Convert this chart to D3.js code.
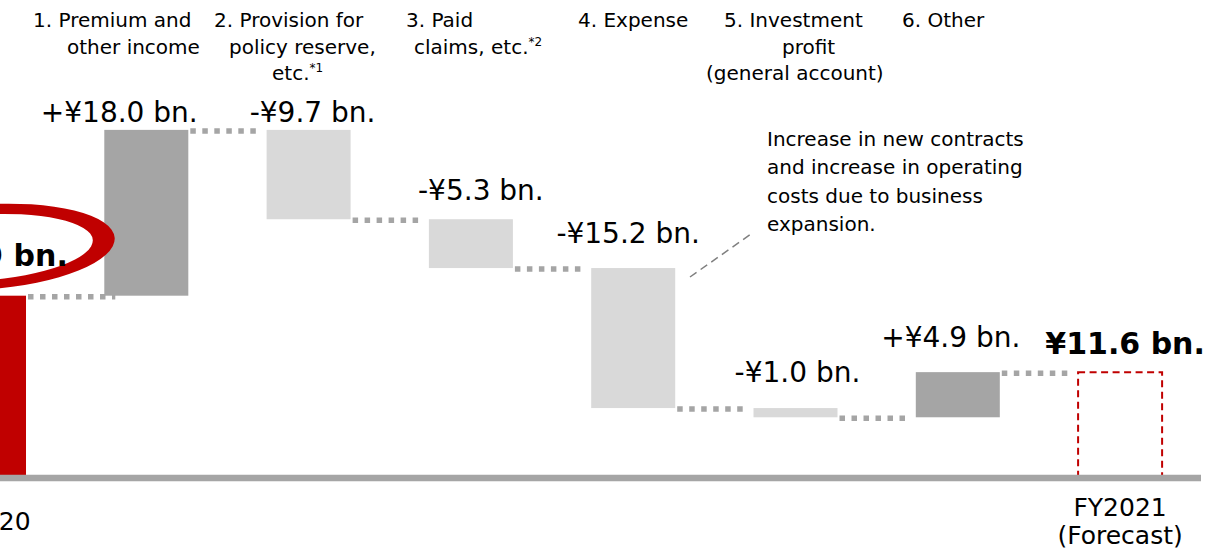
<!DOCTYPE html>
<html>
<head>
<meta charset="utf-8">
<script src="https://cdn.jsdelivr.net/npm/d3@7/dist/d3.min.js"></script>
<style>
  html, body { margin: 0; padding: 0; background: #fff; }
  svg { display: block; font-family: "DejaVu Sans", Verdana, sans-serif; }
</style>
</head>
<body>
<div id="waterfall_chart"></div>
<script>
// values in JPY bn.
const categories = ["FY2020", "c1", "c2", "c3", "c4", "c5", "c6", "FY2021"];
const startValue = 19.9;
const changes = [18.0, -9.7, -5.3, -15.2, -1.0, 4.9];
const endValue = 11.6;

const headerLines = [
    [],
    ["1. Premium and", "other income"],
    ["2. Provision for", "policy reserve,", "etc.|*1"],
    ["3. Paid", "claims, etc.|*2"],
    ["4. Expense"],
    ["5. Investment", "profit", "(general account)"],
    ["6. Other"],
    []
];
const bottomLabels = [["FY2020"], [], [], [], [], [], [], ["FY2021", "(Forecast)"]];
const noteLines = ["Increase in new contracts", "and increase in operating", "costs due to business", "expansion."];

// layout tweaks (not data)
const headerX = [[], [33, 67], [214, 229, 272], [406, 414], [578], [724, 782, 706], [902], []];
const labelNudge = [[4, -30], [-27, -8], [4, -8], [10, -19], [-5, -25], [2, -26], [-7, -25], [5, -18]];

const width = 1212, height = 553;
const darkGray = "#a5a5a5", lightGray = "#d9d9d9", red = "#c00000";

// build waterfall steps
function buildSteps() {
    const steps = [{cat: categories[0], from: 0, to: startValue, kind: "start", value: startValue}];
    let level = startValue;
    changes.forEach((c, i) => {
        steps.push({cat: categories[i + 1], from: level, to: level + c, kind: c >= 0 ? "up" : "down", value: c});
        level += c;
    });
    steps.push({cat: categories[7], from: 0, to: endValue, kind: "end", value: endValue});
    return steps;
}

function _label(d) {
    if (d.kind === "start" || d.kind === "end") return `¥${d.value.toFixed(1)} bn.`;
    return `${d.value >= 0 ? "+" : "-"}¥${Math.abs(d.value).toFixed(1)} bn.`;
}

function _plot() {
    const steps = buildSteps();
    const x = d3.scaleBand().domain(categories)
        .range([-97.15, 1201.25]).paddingInner(0.4824).paddingOuter(0.2412);
    const y = d3.scaleLinear().domain([0, 52]).range([479, 0]);
    const bw = x.bandwidth();

    const svg = d3.create("svg").attr("width", width).attr("height", height);

    // connectors
    for (let i = 0; i < steps.length - 1; i++) {
        const level = steps[i].to;
        const x0 = x(steps[i].cat) + bw + 2;
        const x1 = i === 0 ? x(steps[i + 1].cat) + 11 : x(steps[i + 1].cat) - 8;
        svg.append("line")
            .attr("x1", x0).attr("x2", x1)
            .attr("y1", y(level) + 1).attr("y2", y(level) + 1)
            .attr("stroke", darkGray).attr("stroke-width", 5.5)
            .attr("stroke-dasharray", "5.5,6.5");
    }

    // bars
    svg.append("g").selectAll("rect")
        .data(steps.filter(d => d.kind !== "end"))
        .join("rect")
        .attr("x", d => x(d.cat))
        .attr("width", bw)
        .attr("y", d => y(Math.max(d.from, d.to)))
        .attr("height", d => Math.abs(y(d.from) - y(d.to)))
        .attr("fill", d => d.kind === "start" ? red : (d.kind === "up" ? darkGray : lightGray));

    // forecast box
    const last = steps[steps.length - 1];
    svg.append("rect")
        .attr("x", x(last.cat)).attr("width", bw)
        .attr("y", y(last.to)).attr("height", y(0) - y(last.to))
        .attr("fill", "none").attr("stroke", red).attr("stroke-width", 2)
        .attr("stroke-dasharray", "7,4.5");

    // baseline
    svg.append("line")
        .attr("x1", 0).attr("x2", 1201)
        .attr("y1", y(0) - 1).attr("y2", y(0) - 1)
        .attr("stroke", darkGray).attr("stroke-width", 6.5);

    // red highlight ellipse around start value
    const ell = (cx, cy, rx, ry) =>
        `M${cx - rx},${cy}A${rx},${ry} 0 1,0 ${cx + rx},${cy}A${rx},${ry} 0 1,0 ${cx - rx},${cy}Z`;
    const c0 = x(categories[0]) + bw / 2;
    svg.append("path")
        .attr("d", ell(c0, 247, 131, 42.5) + ell(c0 - 4, 247.5, 113, 33))
        .attr("fill-rule", "evenodd")
        .attr("fill", red)
        .attr("transform", `rotate(-4, ${c0}, 247)`);

    // value labels
    svg.append("g").selectAll("text")
        .data(steps)
        .join("text")
        .attr("x", (d, i) => x(d.cat) + bw / 2 + labelNudge[i][0])
        .attr("y", (d, i) => y(Math.max(d.from, d.to)) + labelNudge[i][1])
        .attr("text-anchor", "middle")
        .attr("font-size", d => d.kind === "start" || d.kind === "end" ? 30 : 28)
        .attr("font-weight", d => d.kind === "start" || d.kind === "end" ? "bold" : "normal")
        .attr("fill", "#000")
        .text(_label);

    // header texts
    headerLines.forEach((lines, i) => {
        lines.forEach((line, j) => {
            const [main, sup] = line.split("|");
            const t = svg.append("text")
                .attr("x", headerX[i][j]).attr("y", 27 + j * 26.5)
                .attr("font-size", 20).attr("fill", "#000");
            t.append("tspan").text(main);
            if (sup) t.append("tspan").attr("font-size", 12).attr("dy", -8).text(sup);
        });
    });

    // bottom category labels
    bottomLabels.forEach((lines, i) => {
        const cx = x(categories[i]) + bw / 2;
        const top = 530 - (lines.length - 1) * 14.5;
        lines.forEach((line, j) => {
            svg.append("text")
                .attr("x", cx).attr("y", top + j * 28.5)
                .attr("text-anchor", "middle")
                .attr("font-size", 25).attr("fill", "#000")
                .text(line);
        });
    });

    // note + leader
    svg.append("line")
        .attr("x1", 690).attr("y1", 277).attr("x2", 751).attr("y2", 234)
        .attr("stroke", "#7f7f7f").attr("stroke-width", 1.5)
        .attr("stroke-dasharray", "8,5");
    noteLines.forEach((line, j) => {
        svg.append("text")
            .attr("x", 767).attr("y", 145.5 + j * 28.5)
            .attr("font-size", 20).attr("fill", "#000")
            .text(line);
    });

    document.getElementById("waterfall_chart").appendChild(svg.node());
}

_plot();
</script>
</body>
</html>
